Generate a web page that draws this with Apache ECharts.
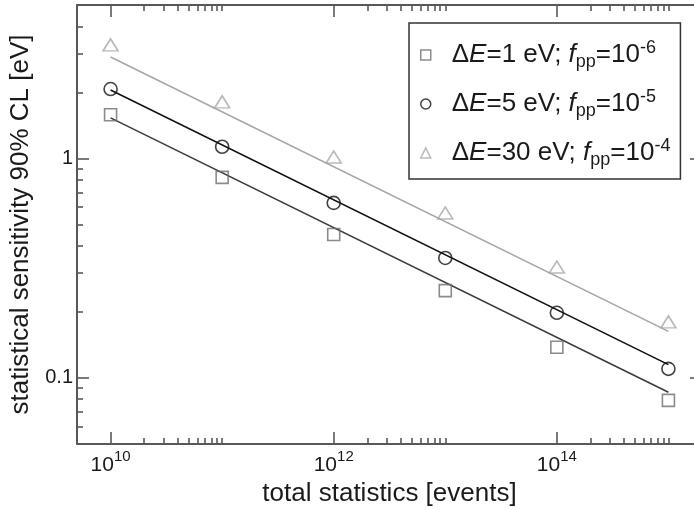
<!DOCTYPE html>
<html>
<head>
<meta charset="utf-8">
<script src="https://cdn.jsdelivr.net/npm/echarts@6/dist/echarts.min.js"></script>
<style>
  html, body { margin: 0; padding: 0; background: #ffffff; }
  #chart { width: 694px; height: 510px; }
</style>
</head>
<body>
<div id="chart"></div>
<script>
// Total number of events (x) for each simulated configuration
const exposure = [1e10, 1e11, 1e12, 1e13, 1e14, 1e15];

// Statistical sensitivity, 90% CL [eV]
const sens1eV  = [1.58, 0.82, 0.45, 0.25, 0.138, 0.079];
const sens5eV  = [2.07, 1.13, 0.627, 0.352, 0.198, 0.110];
const sens30eV = [3.29, 1.81, 1.015, 0.564, 0.320, 0.180];

// Power-law fits (end points of each straight line in log-log space)
const fitRange = [1e10, 1e15];
const fit1eV   = [1.53, 0.086];
const fit5eV   = [2.05, 0.115];
const fit30eV  = [2.90, 0.163];

const seriesNames = ['dE1', 'dE5', 'dE30'];
const legendParts = [
  ['1', '-6'],
  ['5', '-5'],
  ['30', '-4']
];

// Axis ticks
const xMajorTicks = [1e10, 1e12, 1e14];
const xTickExponents = ['10', '12', '14'];
const xMinorTicks = [
  2e10, 3e10, 4e10, 5e10, 6e10, 7e10, 8e10, 9e10, 1e11,
  2e12, 3e12, 4e12, 5e12, 6e12, 7e12, 8e12, 9e12, 1e13,
  2e14, 3e14, 4e14, 5e14, 6e14, 7e14, 8e14, 9e14, 1e15
];
const yMajorTicks = [0.1, 1];
const yTickLabels = ['0.1', '1'];
const yMinorTicks = [
  0.05, 0.06, 0.07, 0.08, 0.09,
  0.2, 0.3, 0.4, 0.5, 0.6, 0.7, 0.8, 0.9,
  2, 3, 4
];

const X_MIN = 5e9, X_MAX = 2e15;
const Y_MIN = 0.05, Y_MAX = 5;

const FONT = 'Liberation Sans, Arial, Helvetica, sans-serif';
const AXIS_COLOR = '#585858';
const TEXT_COLOR = '#1a1a1a';

function pairs(xs, ys) {
  return xs.map((x, i) => [x, ys[i]]);
}

function xAxisSpec(position, ticks, length, withLine, withLabels) {
  return {
    type: 'log',
    logBase: 10,
    min: X_MIN,
    max: X_MAX,
    position: position,
    gridIndex: 0,
    name: withLabels ? 'total statistics [events]' : '',
    nameLocation: 'middle',
    nameGap: 34,
    nameTextStyle: { fontFamily: FONT, fontSize: 26, color: TEXT_COLOR },
    axisLine: { show: withLine, onZero: false, lineStyle: { color: AXIS_COLOR, width: 2 } },
    axisTick: {
      show: true, inside: true, length: length, customValues: ticks,
      lineStyle: { color: AXIS_COLOR, width: 1.6 }
    },
    axisLabel: {
      show: withLabels,
      customValues: withLabels ? xMajorTicks : undefined,
      margin: 5,
      formatter: function (v) {
        const i = xMajorTicks.findIndex(t => Math.abs(Math.log10(t) - Math.log10(v)) < 1e-6);
        return i < 0 ? '' : '{b|10}{s|' + xTickExponents[i] + '}';
      },
      rich: {
        b: { fontFamily: FONT, fontSize: 21, color: TEXT_COLOR, lineHeight: 27, verticalAlign: 'bottom' },
        s: { fontFamily: FONT, fontSize: 15, color: TEXT_COLOR, lineHeight: 15, verticalAlign: 'top' }
      }
    },
    splitLine: { show: false },
    minorTick: { show: false },
    minorSplitLine: { show: false }
  };
}

function yAxisSpec(position, ticks, length, withLine, withLabels) {
  return {
    type: 'log',
    logBase: 10,
    min: Y_MIN,
    max: Y_MAX,
    position: position,
    gridIndex: 0,
    name: withLabels ? 'statistical sensitivity 90% CL [eV]' : '',
    nameLocation: 'middle',
    nameGap: 37,
    nameTextStyle: { fontFamily: FONT, fontSize: 26, color: TEXT_COLOR },
    axisLine: { show: withLine, onZero: false, lineStyle: { color: AXIS_COLOR, width: 2 } },
    axisTick: {
      show: true, inside: true, length: length, customValues: ticks,
      lineStyle: { color: AXIS_COLOR, width: 1.6 }
    },
    axisLabel: {
      show: withLabels,
      customValues: withLabels ? yMajorTicks : undefined,
      margin: 4,
      fontFamily: FONT,
      fontSize: 20,
      color: TEXT_COLOR,
      formatter: function (v) {
        const i = yMajorTicks.findIndex(t => Math.abs(Math.log10(t) - Math.log10(v)) < 1e-6);
        return i < 0 ? '' : yTickLabels[i];
      }
    },
    splitLine: { show: false },
    minorTick: { show: false },
    minorSplitLine: { show: false }
  };
}

const markerStyles = [
  { symbol: 'rect', size: 12, color: '#6e6e6e' },
  { symbol: 'circle', size: 13, color: '#141414' },
  { symbol: 'triangle', size: [15, 12], color: '#a8a8a8' }
];
const lineColors = ['#3c3c3c', '#111111', '#a6a6a6'];
const pointSets = [sens1eV, sens5eV, sens30eV];
const fitSets = [fit1eV, fit5eV, fit30eV];

const series = [];
fitSets.forEach((fit, i) => {
  series.push({
    name: 'fit' + i,
    type: 'line',
    xAxisIndex: 0,
    yAxisIndex: 0,
    data: pairs(fitRange, fit),
    symbol: 'none',
    silent: true,
    lineStyle: { color: lineColors[i], width: 1.6 },
    z: 2
  });
});
pointSets.forEach((vals, i) => {
  const m = markerStyles[i];
  series.push({
    name: seriesNames[i],
    type: 'scatter',
    xAxisIndex: 0,
    yAxisIndex: 0,
    data: pairs(exposure, vals),
    symbol: m.symbol,
    symbolSize: m.size,
    itemStyle: { color: 'rgba(255,255,255,0)', borderColor: m.color, borderWidth: 1.6 },
    z: 3
  });
});

const option = {
  animation: false,
  backgroundColor: '#ffffff',
  grid: {
    left: 77, top: 5, width: 625, height: 439,
    containLabel: false,
    outerBoundsMode: 'none'
  },
  xAxis: [
    xAxisSpec('bottom', xMajorTicks, 12, true, true),
    xAxisSpec('bottom', xMinorTicks, 6, false, false),
    xAxisSpec('top', xMajorTicks, 12, true, false),
    xAxisSpec('top', xMinorTicks, 6, false, false)
  ],
  yAxis: [
    yAxisSpec('left', yMajorTicks, 12, true, true),
    yAxisSpec('left', yMinorTicks, 6, false, false),
    yAxisSpec('right', yMajorTicks, 12, true, false),
    yAxisSpec('right', yMinorTicks, 6, false, false)
  ],
  legend: {
    orient: 'vertical',
    left: 409,
    top: 23,
    data: seriesNames,
    itemWidth: 10,
    itemHeight: 10,
    itemGap: 17,
    padding: [16, 10, 10, 11],
    borderColor: '#333333',
    borderWidth: 1.5,
    backgroundColor: '#ffffff',
    selectedMode: false,
    itemStyle: { borderWidth: 1.5 },
    formatter: function (name) {
      const p = legendParts[seriesNames.indexOf(name)];
      return '{g| }{n|\u0394}{i|E}{n|=' + p[0] + ' eV; }{i|f}{sub|pp}{n|=10}{sup|' + p[1] + '}';
    },
    textStyle: {
      rich: {
        g: { width: 16, fontSize: 26, lineHeight: 32 },
        n: { fontFamily: FONT, fontSize: 26, color: TEXT_COLOR, lineHeight: 32 },
        i: { fontFamily: FONT, fontSize: 26, fontStyle: 'italic', color: TEXT_COLOR, lineHeight: 32 },
        sub: { fontFamily: FONT, fontSize: 18, color: TEXT_COLOR, lineHeight: 16, verticalAlign: 'bottom' },
        sup: { fontFamily: FONT, fontSize: 18, color: TEXT_COLOR, lineHeight: 16, verticalAlign: 'top' }
      }
    }
  },
  series: series
};

const chart = echarts.init(document.getElementById('chart'), null, { renderer: 'canvas' });
chart.setOption(option);
</script>
</body>
</html>
